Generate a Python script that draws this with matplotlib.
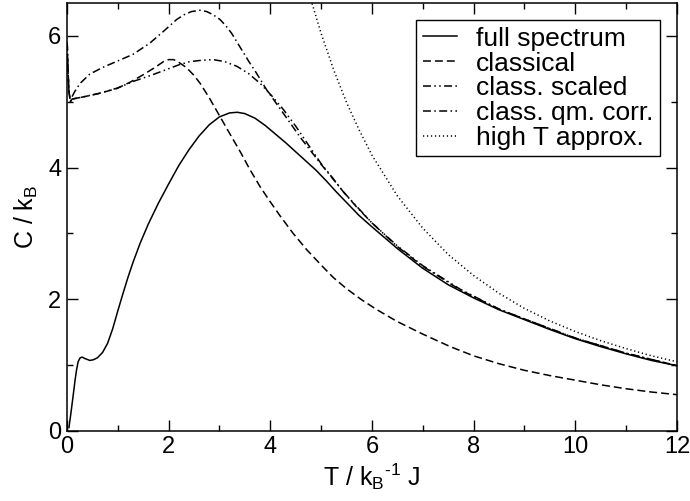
import matplotlib
matplotlib.use("Agg")
import matplotlib.pyplot as plt
from matplotlib.ticker import MultipleLocator

plt.rcParams['font.family'] = ['Liberation Sans', 'DejaVu Sans']
plt.rcParams['mathtext.fontset'] = 'custom'
plt.rcParams['mathtext.rm'] = 'Liberation Sans'

# full spectrum
T_full = [0.04, 0.08, 0.12, 0.16, 0.19, 0.22, 0.26, 0.3, 0.35, 0.45, 0.52, 0.6,
          0.7, 0.8, 0.9, 1.0, 1.1, 1.2, 1.3, 1.44, 1.6, 1.8, 2.0, 2.2, 2.4, 2.6,
          2.8, 3.0, 3.2, 3.35, 3.5, 3.7, 3.9, 4.1, 4.3, 4.5, 4.7, 4.9, 5.1, 5.3,
          5.5, 5.75, 6.0, 6.5, 7.0, 7.5, 8.0, 8.5, 9.0, 9.5, 10.0, 10.5, 11.0,
          11.5, 12.0]
C_full = [0.05, 0.28, 0.52, 0.77, 0.93, 1.05, 1.11, 1.12, 1.10, 1.07, 1.08, 1.11,
          1.19, 1.33, 1.55, 1.82, 2.08, 2.33, 2.56, 2.85, 3.14, 3.46, 3.75, 4.03,
          4.27, 4.48, 4.65, 4.77, 4.83, 4.84, 4.82, 4.75, 4.64, 4.51, 4.38, 4.24,
          4.10, 3.96, 3.80, 3.63, 3.47, 3.27, 3.10, 2.77, 2.47, 2.22, 2.02, 1.84,
          1.69, 1.54, 1.40, 1.28, 1.17, 1.07, 0.99]

# classical
T_cl = [0.005, 0.02, 0.04, 0.07, 0.1, 0.3, 0.6, 0.98, 1.25, 1.5, 1.75, 1.9, 2.0,
        2.1, 2.2, 2.35, 2.5, 2.62, 2.8, 3.0, 3.2, 3.41, 3.6, 3.8, 4.0, 4.19, 4.45,
        4.72, 5.0, 5.24, 5.5, 5.8, 6.1, 6.5, 7.0, 7.54, 8.0, 8.5, 9.0, 9.5, 10.0,
        10.5, 11.0, 11.5, 12.0]
C_cl = [5.9, 5.5, 5.15, 5.0, 5.04, 5.07, 5.12, 5.2, 5.30, 5.41, 5.53, 5.61, 5.64,
        5.64, 5.60, 5.52, 5.40, 5.28, 5.06, 4.79, 4.52, 4.24, 3.97, 3.71, 3.48, 3.27,
        3.00, 2.75, 2.52, 2.33, 2.16, 1.99, 1.84, 1.66, 1.47, 1.28, 1.14, 1.02, 0.92,
        0.84, 0.77, 0.70, 0.64, 0.59, 0.55]

# class. scaled
T_sc = [0.005, 0.02, 0.04, 0.07, 0.09, 0.3, 0.65, 1.0, 1.31, 1.65, 1.96, 2.2, 2.42,
        2.65, 2.88, 3.1, 3.34, 3.57, 3.8, 4.03, 4.26, 4.5, 4.78, 5.0, 5.2, 5.44, 5.7,
        6.0, 6.5, 7.0, 7.74, 8.5, 9.0, 10.0, 11.0, 12.0]
C_sc = [5.9, 5.5, 5.15, 5.0, 5.04, 5.07, 5.13, 5.21, 5.31, 5.40, 5.49, 5.56, 5.61,
        5.63, 5.64, 5.61, 5.54, 5.43, 5.28, 5.09, 4.88, 4.63, 4.31, 4.06, 3.87, 3.63,
        3.41, 3.16, 2.81, 2.51, 2.15, 1.85, 1.70, 1.41, 1.18, 0.99]

# class. qm. corr.
T_qm = [0.005, 0.02, 0.04, 0.07, 0.09, 0.15, 0.26, 0.45, 0.7, 1.0, 1.3, 1.63, 1.9,
        2.16, 2.3, 2.45, 2.62, 2.75, 2.88, 3.01, 3.12, 3.24, 3.35, 3.47, 3.58, 3.7,
        3.82, 3.93, 4.05, 4.16, 4.39, 4.58, 4.78, 5.0, 5.2, 5.44, 5.7, 6.0, 6.5, 7.0,
        7.74, 8.5, 9.0, 10.0, 11.0, 12.0]
C_qm = [5.9, 5.5, 5.15, 5.0, 5.06, 5.15, 5.28, 5.42, 5.52, 5.62, 5.72, 5.89, 6.07,
        6.25, 6.32, 6.37, 6.39, 6.37, 6.32, 6.25, 6.16, 6.04, 5.90, 5.75, 5.61, 5.47,
        5.32, 5.18, 5.05, 4.93, 4.68, 4.47, 4.27, 4.05, 3.86, 3.63, 3.40, 3.16, 2.80,
        2.50, 2.14, 1.85, 1.70, 1.41, 1.18, 0.99]

# high T approx.
T_hi = [4.8, 5.0, 5.25, 5.5, 5.75, 6.0, 6.5, 7.0, 7.5, 8.0, 8.5, 9.0, 9.5, 10.0,
        10.5, 11.0, 11.5, 12.0]
C_hi = [6.55, 6.04, 5.48, 4.99, 4.57, 4.19, 3.57, 3.08, 2.68, 2.36, 2.09, 1.86, 1.67,
        1.51, 1.37, 1.25, 1.14, 1.05]

fig = plt.figure(figsize=(6.9, 5.01), dpi=100)
ax = fig.add_axes([0.097, 0.14, 0.884, 0.854])

lw = 1.1
ax.plot(T_full, C_full, color='k', lw=lw, label='full spectrum')
ax.plot(T_cl, C_cl, color='k', lw=lw, dashes=(5.2, 2.6), label='classical')
ax.plot(T_sc, C_sc, color='k', lw=lw, dashes=(5.2, 2.2, 1.0, 2.2, 1.0, 2.2),
        label='class. scaled')
ax.plot(T_qm, C_qm, color='k', lw=lw, dashes=(5.2, 2.2, 1.0, 2.2),
        label='class. qm. corr.')
ax.plot(T_hi, C_hi, color='k', lw=lw, dashes=(0.8, 1.8), label='high T approx.')

ax.set_xlim(0, 12)
ax.set_ylim(0, 6.5)
ax.xaxis.set_major_locator(MultipleLocator(2))
ax.xaxis.set_minor_locator(MultipleLocator(1))
ax.yaxis.set_major_locator(MultipleLocator(2))
ax.yaxis.set_minor_locator(MultipleLocator(1))
ax.tick_params(which='both', direction='in', top=True, right=True, width=1.0)
ax.tick_params(which='major', length=8, labelsize=17, pad=4)
ax.tick_params(which='minor', length=4)
for s in ax.spines.values():
    s.set_linewidth(1.1)

ax.set_xlabel('T / k$_\\mathregular{B}$$^\\mathregular{\u20101}$ J', fontsize=18, labelpad=2)
ax.set_ylabel(r'C / k$_\mathregular{B}$', fontsize=18, labelpad=6)

leg = ax.legend(loc='upper right', bbox_to_anchor=(0.972, 0.96), fontsize=19,
                handlelength=1.3, handletextpad=0.7, labelspacing=0.03,
                borderpad=0.25, borderaxespad=0, fancybox=False, framealpha=1)
leg.get_frame().set_edgecolor('k')
leg.get_frame().set_linewidth(1.0)

fig.savefig('out.png', dpi=100)
